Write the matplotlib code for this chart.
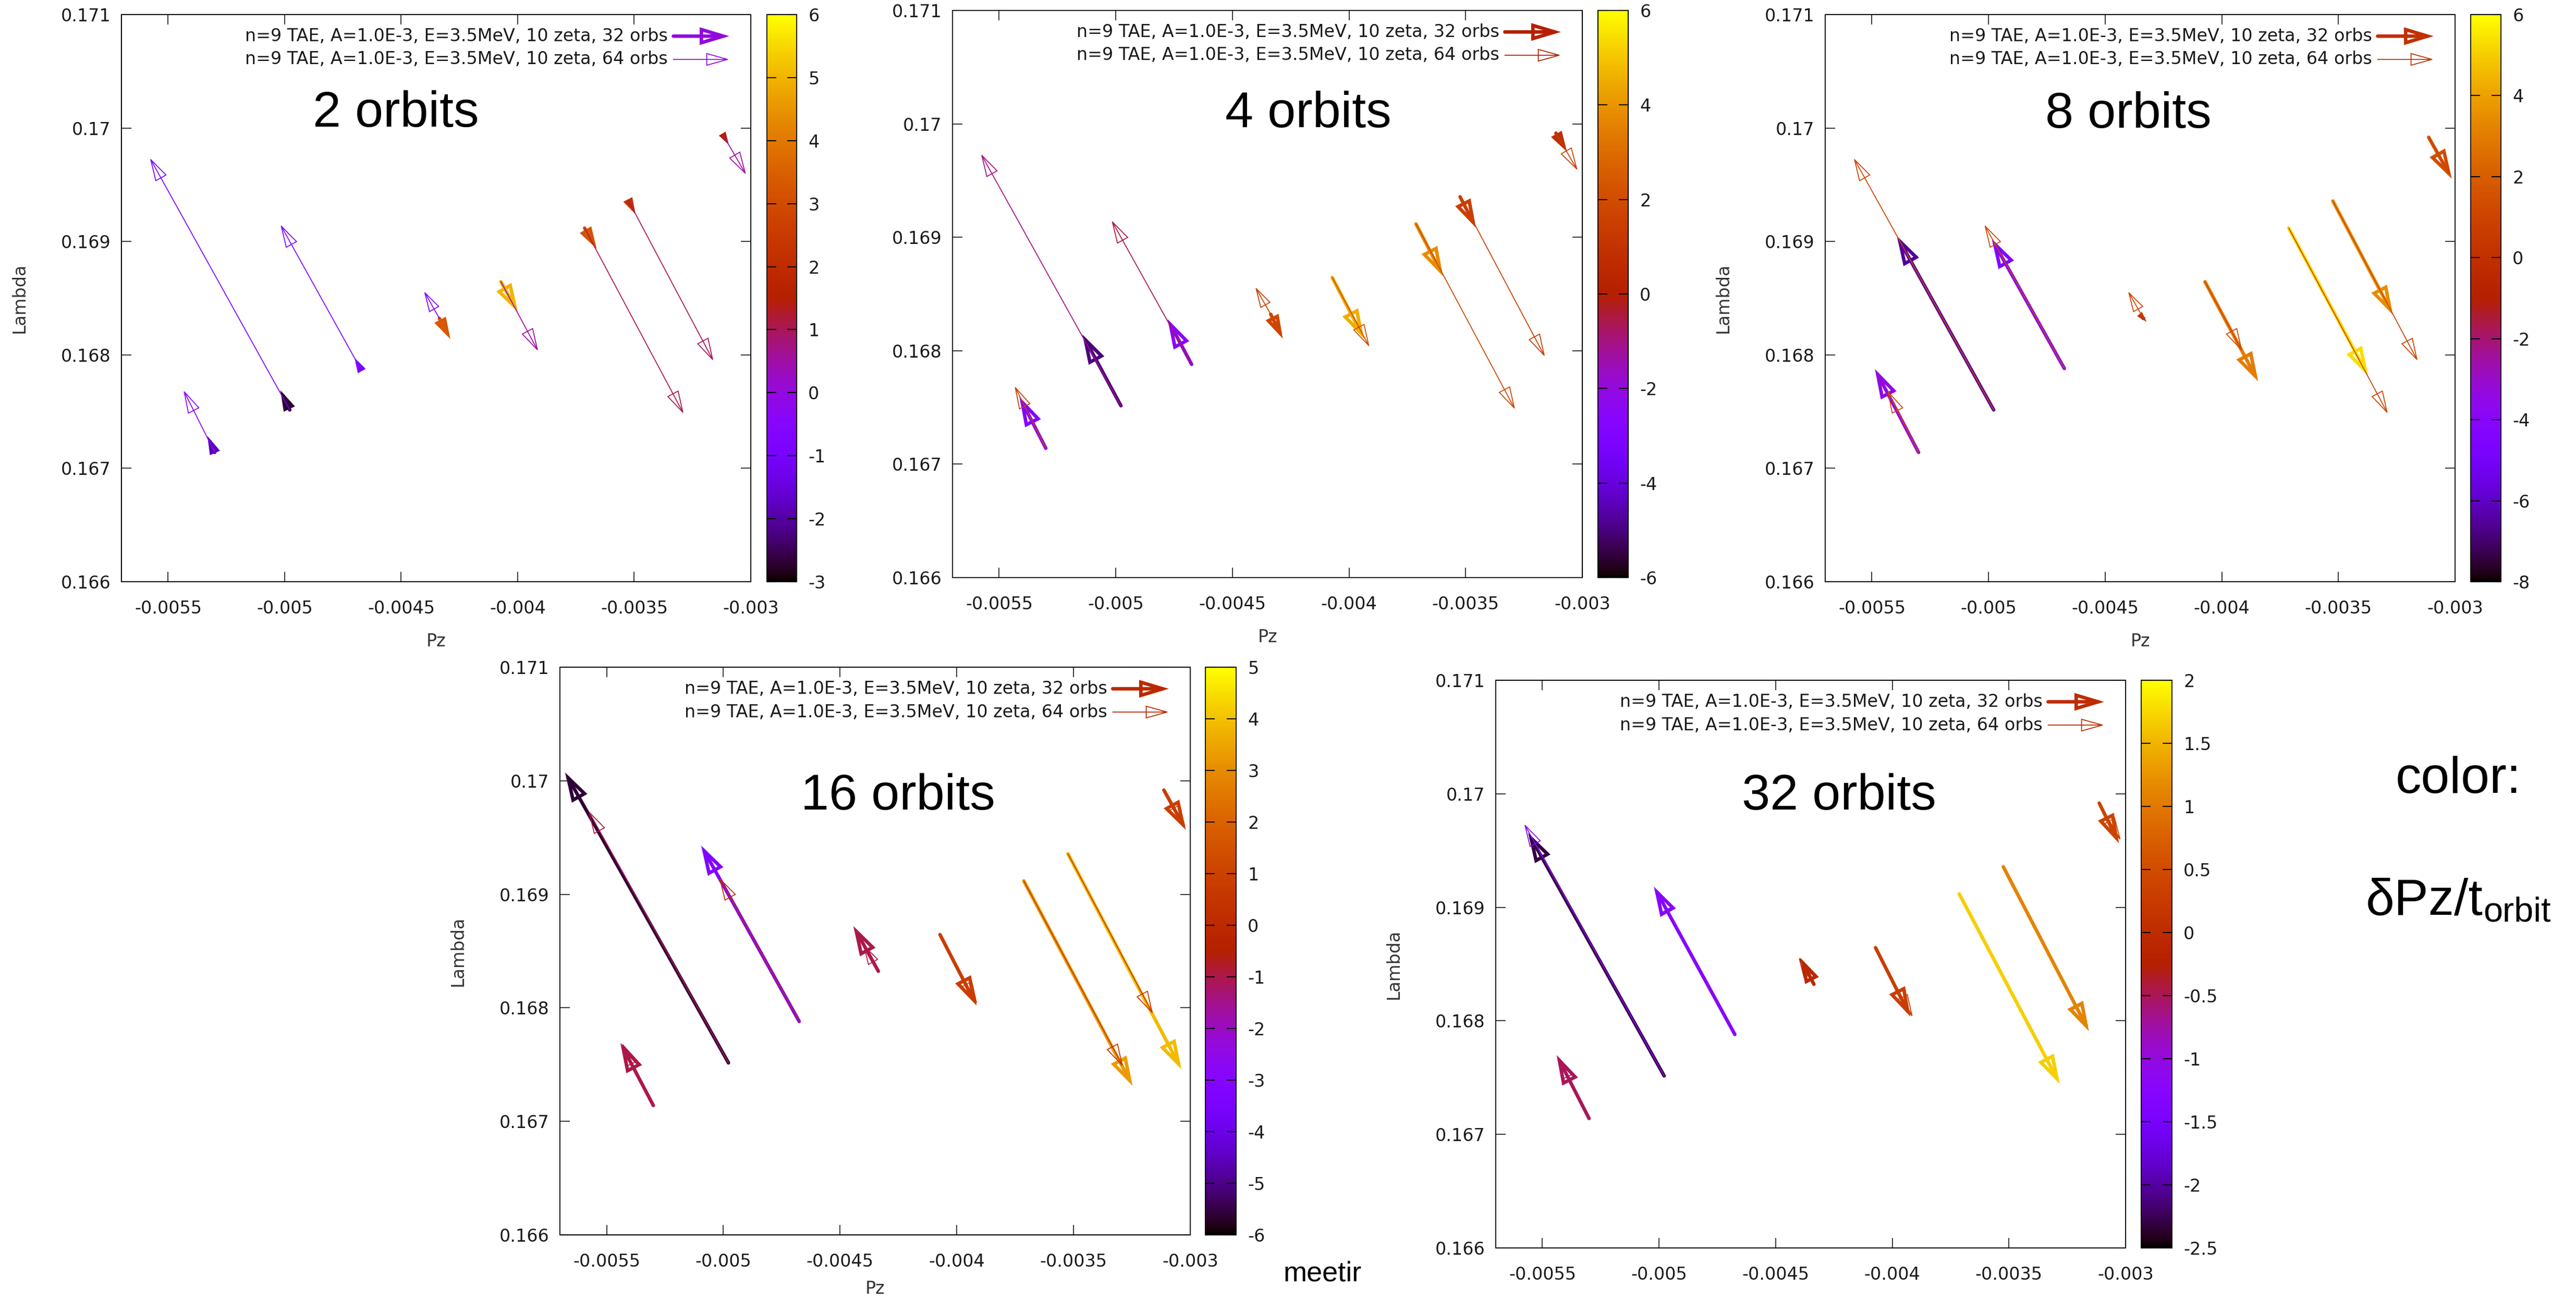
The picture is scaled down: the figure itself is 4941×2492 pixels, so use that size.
import numpy as np
import matplotlib
matplotlib.use("Agg")
import matplotlib.pyplot as plt
from matplotlib.patches import FancyArrowPatch, ArrowStyle
from matplotlib.colors import Normalize
from matplotlib.cm import ScalarMappable

plt.rcParams['font.family'] = ['DejaVu Sans']
plt.rcParams['axes.unicode_minus'] = False

# ---------------- data ----------------
# 8 particles (same start points in every panel)
PZ_START = [-0.005300, -0.004978, -0.004675, -0.004336, -0.004072, -0.003713, -0.003524, -0.003113]
LAM_START = [0.167140, 0.167515, 0.167880, 0.168322, 0.168645, 0.169118, 0.169357, 0.169918]
# end points of the "64 orbs" (thin) arrows
PZ_END64 = [-0.005434, -0.005578, -0.005018, -0.004402, -0.003912, -0.003288, -0.003160, -0.003020]
LAM_END64 = [0.167688, 0.169735, 0.169148, 0.168561, 0.168032, 0.167481, 0.167946, 0.169589]

ORBIT_TITLES = ['2 orbits', '4 orbits', '8 orbits', '16 orbits', '32 orbits']

# "32 orbs" (thick) arrow end points and colour values, one set per panel
ORB2_PZ32 = [-0.005331, -0.005018, -0.004700, -0.004289, -0.003999, -0.003661, -0.003494, -0.003094]
ORB2_LAM32 = [0.167284, 0.167688, 0.167974, 0.168140, 0.168377, 0.168935, 0.169239, 0.169852]
ORB2_C32 = [-1.8, -2.7, -0.8, 3.3, 5.0, 3.2, 2.2, 1.5]
ORB2_C64 = [-0.3, -0.8, -0.7, -0.8, 0.5, 1.1, 1.0, 0.5]

ORB4_PZ32 = [-0.005413, -0.005143, -0.004778, -0.004284, -0.003936, -0.003597, -0.003456, -0.003066]
ORB4_LAM32 = [0.167593, 0.168143, 0.168278, 0.168106, 0.168106, 0.168656, 0.169084, 0.169755]
ORB4_C32 = [-2.8, -5.0, -2.5, 1.8, 4.5, 3.8, 1.5, 0.8]
ORB4_C64 = [1.5, -1.0, -0.5, 1.5, 2.0, 1.8, 1.5, 1.5]

ORB8_PZ32 = [-0.005487, -0.005393, -0.004986, -0.004322, -0.003844, -0.003372, -0.003266, -0.003014]
ORB8_LAM32 = [0.167875, 0.169048, 0.169022, 0.168290, 0.167766, 0.167813, 0.168352, 0.169553]
ORB8_C32 = [-3.4, -6.5, -4.3, 0.2, 3.0, 5.3, 3.5, 1.5]
ORB8_C64 = [1.0, 1.0, 1.0, 1.0, 1.0, 1.0, 1.0, 1.0]

ORB16_PZ32 = [-0.005441, -0.005678, -0.005095, -0.004443, -0.003915, -0.003247, -0.003038, -0.003019]
ORB16_LAM32 = [0.167691, 0.170073, 0.169429, 0.168720, 0.168019, 0.167313, 0.167459, 0.169567]
ORB16_C32 = [-1.0, -5.6, -3.2, -1.0, 0.8, 3.3, 3.9, 0.8]
ORB16_C64 = [-1.0, -1.0, 0.0, -1.0, 0.8, 0.5, 0.5, 0.8]

ORB32_PZ32 = [-0.005439, -0.005561, -0.005022, -0.004395, -0.003922, -0.003282, -0.003157, -0.003028]
ORB32_LAM32 = [0.167698, 0.169655, 0.169182, 0.168557, 0.168037, 0.167444, 0.167909, 0.169564]
ORB32_C32 = [-0.5, -2.3, -1.2, -0.1, 0.3, 1.7, 1.1, 0.4]
ORB32_C64 = [-0.5, -1.2, -1.2, -0.1, 0.3, 1.7, 1.1, 0.4]

CB_MIN = [-3, -6, -8, -6, -2.5]
CB_MAX = [6, 6, 6, 5, 2]
CB_TICKS = [
    [-3, -2, -1, 0, 1, 2, 3, 4, 5, 6],
    [-6, -4, -2, 0, 2, 4, 6],
    [-8, -6, -4, -2, 0, 2, 4, 6],
    [-6, -5, -4, -3, -2, -1, 0, 1, 2, 3, 4, 5],
    [-2.5, -2, -1.5, -1, -0.5, 0, 0.5, 1, 1.5, 2],
]
CB_TICKLABELS = [
    ['-3', '-2', '-1', '0', '1', '2', '3', '4', '5', '6'],
    ['-6', '-4', '-2', '0', '2', '4', '6'],
    ['-8', '-6', '-4', '-2', '0', '2', '4', '6'],
    ['-6', '-5', '-4', '-3', '-2', '-1', '0', '1', '2', '3', '4', '5'],
    ['-2.5', '-2', '-1.5', '-1', '-0.5', '0', '0.5', '1', '1.5', '2'],
]

XTICKS = [-0.0055, -0.005, -0.0045, -0.004, -0.0035, -0.003]
XTICKLABELS = ['-0.0055', '-0.005', '-0.0045', '-0.004', '-0.0035', '-0.003']
YTICKS = [0.166, 0.167, 0.168, 0.169, 0.170, 0.171]
YTICKLABELS = ['0.166', '0.167', '0.168', '0.169', '0.17', '0.171']
XLIM = (-0.0057, -0.003)
YLIM = (0.166, 0.171)

LEGEND_32 = 'n=9 TAE, A=1.0E-3, E=3.5MeV, 10 zeta, 32 orbs'
LEGEND_64 = 'n=9 TAE, A=1.0E-3, E=3.5MeV, 10 zeta, 64 orbs'

PANEL_DATA = [
    (ORB2_PZ32, ORB2_LAM32, ORB2_C32, ORB2_C64),
    (ORB4_PZ32, ORB4_LAM32, ORB4_C32, ORB4_C64),
    (ORB8_PZ32, ORB8_LAM32, ORB8_C32, ORB8_C64),
    (ORB16_PZ32, ORB16_LAM32, ORB16_C32, ORB16_C64),
    (ORB32_PZ32, ORB32_LAM32, ORB32_C32, ORB32_C64),
]

# ---------------- layout (pixels) ----------------
W, H, DPI = 4941, 2492, 100
AX_BOX = [(233, 28, 1440, 1116), (1827, 20, 3035, 1108), (3501, 28, 4709, 1116),
          (1074, 1280, 2283, 2369), (2869, 1305, 4077, 2394)]
CB_BOX = [(1471, 28, 1528, 1116), (3065, 20, 3123, 1108), (4739, 28, 4797, 1116),
          (2312, 1280, 2371, 2369), (4107, 1305, 4166, 2394)]
TITLE_POS = [(759, 243), (2509, 244), (4082, 245), (1722, 1553), (3527, 1553)]
SHOW_YLABEL = [True, False, True, True, True]
XLABEL_Y = [1231, 1223, 1231, 2472, None]

fig = plt.figure(figsize=(W / DPI, H / DPI), dpi=DPI)
fig.patch.set_facecolor('white')
cmap = plt.get_cmap('gnuplot')
TXT = '#1a1a1a'


def fbox(b):
    x0, y0, x1, y1 = b
    return [x0 / W, 1 - y1 / H, (x1 - x0) / W, (y1 - y0) / H]


def arrow(ax, p0, p1, color, lw, head_px, ratio, z, transform=None):
    tr = ax.transData if transform is None else transform
    d0 = tr.transform(p0)
    d1 = tr.transform(p1)
    L = np.hypot(*(d1 - d0))
    hl = min(head_px, 0.6 * L) * 72.0 / DPI
    hw = hl * ratio
    style = ArrowStyle('-|>', head_length=hl, head_width=hw)
    a = FancyArrowPatch(p0, p1, arrowstyle=style, mutation_scale=1, lw=lw,
                        edgecolor=color, facecolor='none', shrinkA=0, shrinkB=0,
                        zorder=z, clip_on=False, transform=tr,
                        joinstyle='miter', capstyle='round')
    ax.add_patch(a)


for i in range(5):
    ax = fig.add_axes(fbox(AX_BOX[i]))
    ax.set_xlim(*XLIM)
    ax.set_ylim(*YLIM)
    ax.set_xticks(XTICKS)
    ax.set_xticklabels(XTICKLABELS)
    ax.set_yticks(YTICKS)
    ax.set_yticklabels(YTICKLABELS)
    ax.tick_params(axis='both', direction='in', length=13.5, width=1.1, labelsize=24,
                   top=True, right=True, colors='black', labelcolor=TXT)
    ax.tick_params(axis='x', pad=25)
    ax.tick_params(axis='y', pad=15)
    for s in ax.spines.values():
        s.set_linewidth(1.4)
    norm = Normalize(CB_MIN[i], CB_MAX[i])
    pz32, lam32, c32, c64 = PANEL_DATA[i]
    # thick "32 orbs" arrows first, thin "64 orbs" arrows on top
    for k in range(len(PZ_START)):
        arrow(ax, (PZ_START[k], LAM_START[k]), (pz32[k], lam32[k]), cmap(norm(c32[k])),
              4.8, 42, 0.30, 3)
    for k in range(len(PZ_START)):
        arrow(ax, (PZ_START[k], LAM_START[k]), (PZ_END64[k], LAM_END64[k]), cmap(norm(c64[k])),
              1.3, 40, 0.28, 4)
    # key
    kc = cmap(norm(0))
    ax.text(0.868, 0.962, LEGEND_32, transform=ax.transAxes, ha='right', va='center',
            fontsize=24, color=TXT)
    ax.text(0.868, 0.921, LEGEND_64, transform=ax.transAxes, ha='right', va='center',
            fontsize=24, color=TXT)
    arrow(ax, (0.877, 0.962), (0.966, 0.962), kc, 4.8, 42, 0.30, 5, transform=ax.transAxes)
    arrow(ax, (0.877, 0.921), (0.966, 0.921), kc, 1.3, 40, 0.28, 5, transform=ax.transAxes)
    # axis labels (placed like the screenshots)
    x0, y0, x1, y1 = AX_BOX[i]
    if XLABEL_Y[i] is not None:
        fig.text(((x0 + x1) / 2) / W, 1 - XLABEL_Y[i] / H, 'Pz', ha='center', va='center',
                 fontsize=24, color='#333333')
    if SHOW_YLABEL[i]:
        fig.text((x0 - 196) / W, 1 - ((y0 + y1) / 2) / H, 'Lambda', rotation=90,
                 ha='center', va='center', fontsize=24, color='#333333')
    # panel title
    tx, ty = TITLE_POS[i]
    fig.text(tx / W, 1 - ty / H, ORBIT_TITLES[i], ha='center', va='baseline',
             fontsize=70, family='Liberation Sans', color='black')
    # colour box
    cax = fig.add_axes(fbox(CB_BOX[i]))
    sm = ScalarMappable(norm=norm, cmap=cmap)
    cb = fig.colorbar(sm, cax=cax)
    cb.set_ticks(CB_TICKS[i])
    cb.set_ticklabels(CB_TICKLABELS[i])
    cb.outline.set_linewidth(1.4)
    cax.tick_params(direction='in', length=13, width=1.5, left=True, right=True,
                    labelsize=24, pad=16, colors='black', labelcolor=TXT)
    cax.minorticks_off()

# side annotation
fig.text(4715 / W, 1 - 1521 / H, 'color:', ha='center', va='baseline', fontsize=71,
         family='Liberation Sans', color='black')
fig.text(4538 / W, 1 - 1755 / H, 'δPz/t', ha='left', va='baseline', fontsize=71,
         family='Liberation Sans', color='black')
fig.text(4763 / W, 1 - 1768 / H, 'orbit', ha='left', va='baseline', fontsize=48,
         family='Liberation Sans', color='black')
# cut-off text fragment at the bottom
fig.text(2612 / W, 1 - 2458 / H, 'meetir', ha='right', va='baseline', fontsize=39,
         family='Liberation Sans', color='black')

fig.savefig('out.png', dpi=DPI, facecolor='white')
